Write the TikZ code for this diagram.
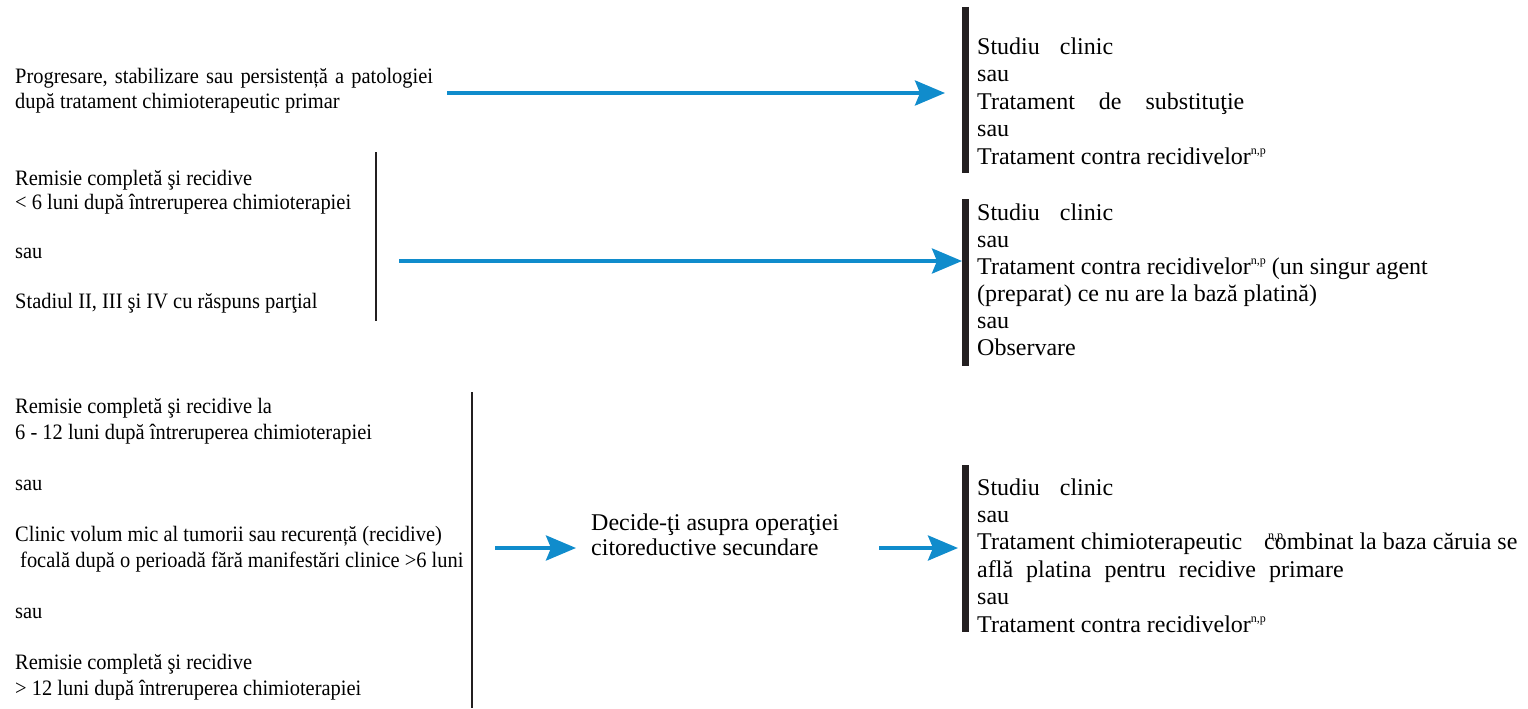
\documentclass[tikz,border=0pt]{standalone}
\usepackage{fontspec}
\setmainfont{Liberation Serif}
\newfontfamily\condensed[FakeStretch=0.93]{Liberation Serif}
\usetikzlibrary{arrows.meta}
\definecolor{flowblue}{RGB}{16,140,204}
\definecolor{barblack}{RGB}{35,31,32}
% small raised note marks
\newcommand\notemark[1]{\raisebox{10pt}{\fontsize{12pt}{12pt}\selectfont #1}}
% multi-line nodes below are placed by the baseline of their last line
\tikzset{
  cond/.style={anchor=base west, inner sep=0pt, align=left},
  opt/.style={anchor=base west, inner sep=0pt, align=left},
  flow/.style={draw=flowblue, line width=4pt,
    -{Stealth[length=30pt, width=25pt, inset=5pt]}},
  bar/.style={draw=barblack, line width=7pt},
  rule/.style={draw=barblack, line width=2pt},
}
\begin{document}
\begin{tikzpicture}[x=1pt, y=-1pt]
\useasboundingbox (0,0) rectangle (1528,709);

% --- conditions (left column) ---
\node[cond, font=\condensed\fontsize{22pt}{25pt}\selectfont] (t1) at (15,108)
  {Progresare,\hspace{2pt} stabilizare\hspace{2pt} sau\hspace{2pt} persistență\hspace{2pt} a\hspace{2pt} patologiei\\
   după tratament chimioterapeutic primar};

\node[cond, font=\condensed\fontsize{22pt}{24.6pt}\selectfont] (t2) at (15,308)
  {Remisie completă şi recidive\\
   < 6 luni după întreruperea chimioterapiei\\[24.6pt]
   sau\\[24.6pt]
   Stadiul II, III şi IV cu răspuns parţial};

\node[cond, font=\condensed\fontsize{22pt}{25.6pt}\selectfont] (t3) at (15,695)
  {Remisie completă şi recidive la\\
   6 - 12 luni după întreruperea chimioterapiei\\[25.6pt]
   sau\\[25.6pt]
   Clinic volum mic al tumorii sau recurență (recidive)\\
   \hspace{5pt}focală după o perioadă fără manifestări clinice >6 luni\\[25.6pt]
   sau\\[25.6pt]
   Remisie completă şi recidive\\
   > 12 luni după întreruperea chimioterapiei};

% --- intermediate step ---
\node[opt, font=\fontsize{24pt}{25pt}\selectfont] (mid) at (591,555)
  {Decide-ţi asupra operaţiei\\citoreductive secundare};

% --- options (right column) ---
\node[opt, font=\fontsize{24pt}{27.5pt}\selectfont] (r1) at (977,164)
  {Studiu\hspace{14pt} clinic\\
   sau\\
   Tratament\hspace{18pt} de\hspace{18pt} substituţie\\
   sau\\
   Tratament contra recidivelor\notemark{n,p}};

\node[opt, font=\fontsize{24pt}{27.1pt}\selectfont] (r2) at (977,355.5)
  {Studiu\hspace{14pt} clinic\\
   sau\\
   Tratament contra recidivelor\notemark{n,p} (un singur agent\\
   (preparat) ce nu are la bază platină)\\
   sau\\
   Observare};

\node[opt, font=\fontsize{24pt}{27.4pt}\selectfont] (r3) at (977,632)
  {Studiu\hspace{14pt} clinic\\
   sau\\
   Tratament chimioterapeutic\hspace{22pt}\rlap{\hspace{4pt}\notemark{n,p}}combinat la baza căruia se\\
   află\hspace{7pt} platina\hspace{7pt} pentru\hspace{7pt} recidive\hspace{7pt} primare\\
   sau\\
   Tratament contra recidivelor\notemark{n,p}};

% --- bracket bars and dividers ---
\coordinate (b1t) at (965.5,7);   \coordinate (b1b) at (965.5,173);
\coordinate (b2t) at (965.5,199); \coordinate (b2b) at (965.5,366);
\coordinate (b3t) at (965.5,465); \coordinate (b3b) at (965.5,632);
\draw[bar] (b1t) -- (b1b);
\draw[bar] (b2t) -- (b2b);
\draw[bar] (b3t) -- (b3b);

\coordinate (d2t) at (376,152); \coordinate (d2b) at (376,321);
\coordinate (d3t) at (472,392); \coordinate (d3b) at (472,708);
\draw[rule] (d2t) -- (d2b);
\draw[rule] (d3t) -- (d3b);

% --- arrows ---
\coordinate (a1s) at (447,93);  \coordinate (a1e) at (945,93);
\coordinate (a2s) at (399,261); \coordinate (a2e) at (962,261);
\coordinate (a3s) at (495,548); \coordinate (a3e) at (576,548);
\coordinate (a4s) at (879,548); \coordinate (a4e) at (958,548);
\draw[flow] (a1s) -- (a1e);
\draw[flow] (a2s) -- (a2e);
\draw[flow] (a3s) -- (a3e);
\draw[flow] (a4s) -- (a4e);
\end{tikzpicture}
\end{document}
